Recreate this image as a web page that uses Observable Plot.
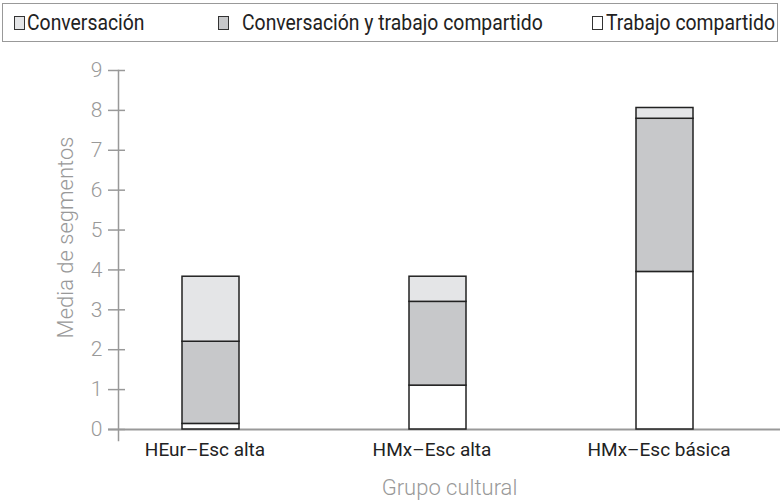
<!DOCTYPE html>
<html>
<head>
<meta charset="utf-8">
<script src="https://cdn.jsdelivr.net/npm/d3@7"></script>
<script src="https://cdn.jsdelivr.net/npm/@observablehq/plot@0.6"></script>
<style>
  html, body { margin: 0; padding: 0; background: #fff; width: 780px; height: 504px; overflow: hidden; }
  body { font-family: Roboto, "DejaVu Sans Condensed", sans-serif; position: relative; }
  #legend { position: absolute; left: 2px; top: 3px; width: 774px; height: 37px; border: 1.5px solid #999;
    font-size: 22px; color: #222; }
  #legend .sw { position: absolute; top: 12px; width: 11px; height: 14px; border: 1px solid #333; box-sizing: border-box; }
  #legend .tx { position: absolute; top: 7px; white-space: nowrap; display: inline-block; transform: scaleX(0.88); transform-origin: left center; line-height: 24px; }
  #chart { position: absolute; left: 0; top: 45px; }
</style>
</head>
<body>
<div id="legend"></div>
<div id="chart"></div>
<script>
const grupos = ["HEur–Esc alta", "HMx–Esc alta", "HMx–Esc básica"];
const tipos = ["Trabajo compartido", "Conversación y trabajo compartido", "Conversación"];
const trabajoCompartido = [0.14, 1.10, 3.95];
const conversacionYTrabajo = [2.06, 2.10, 3.84];
const conversacion = [1.63, 0.63, 0.27];
const colores = ["#ffffff", "#c7c8ca", "#e4e5e7"];
const yTicks = [0, 1, 2, 3, 4, 5, 6, 7, 8, 9];
const legendOrder = ["Conversación", "Conversación y trabajo compartido", "Trabajo compartido"];

const series = [trabajoCompartido, conversacionYTrabajo, conversacion];
const rows = [];
grupos.forEach((g, i) => tipos.forEach((t, j) => rows.push({grupo: g, tipo: t, valor: series[j][i]})));

// legend
const legend = document.getElementById("legend");
const swX = [11, 215, 589];
const txX = [24, 239, 603];
legendOrder.forEach((t, k) => {
  const sw = document.createElement("span");
  sw.className = "sw";
  sw.style.left = swX[k] + "px";
  sw.style.background = colores[tipos.indexOf(t)];
  const tx = document.createElement("span");
  tx.className = "tx";
  tx.style.left = txX[k] + "px";
  tx.textContent = t;
  legend.append(sw, tx);
});

const font = "Roboto, 'DejaVu Sans Condensed', sans-serif";
const plot = Plot.plot({
  width: 780,
  height: 459,
  marginTop: 25,
  marginBottom: 64,
  marginLeft: 118,
  marginRight: 0,
  style: {fontFamily: font, background: "#fff"},
  x: {domain: grupos, range: [118, 756], paddingInner: 0.75, paddingOuter: 0.277, label: null},
  y: {domain: [-0.276, 9], label: null},
  color: {domain: tipos, range: colores},
  marks: [
    Plot.frame({anchor: "left", stroke: "#999", strokeWidth: 1.5}),
    Plot.ruleY([0], {stroke: "#999", strokeWidth: 2, insetLeft: -10}),
    Plot.axisY({ticks: yTicks, tickSize: 17, dx: 7, text: null, stroke: "#999", strokeWidth: 1.5}),
    Plot.axisY({ticks: yTicks, tickSize: 0, tickPadding: 16, tickFormat: d => d, fontSize: 21, fontWeight: 300, fill: "#999", label: null}),
    Plot.barY(rows, {x: "grupo", y: "valor", fill: "tipo", stroke: "#222", strokeWidth: 1.5, order: null}),
    Plot.axisX({tickSize: 0, tickPadding: 2, dx: -6, fontSize: 19, fill: "#222", label: null}),
    Plot.text(["Grupo cultural"], {frameAnchor: "bottom", dy: 54, fontSize: 22, fontWeight: 300, fill: "#999"}),
    Plot.text(["Media de segmentos"], {frameAnchor: "left", textAnchor: "middle", dx: -53, dy: -18, rotate: -90, fontSize: 22, fontWeight: 300, fill: "#999"})
  ]
});
document.getElementById("chart").append(plot);
</script>
</body>
</html>
